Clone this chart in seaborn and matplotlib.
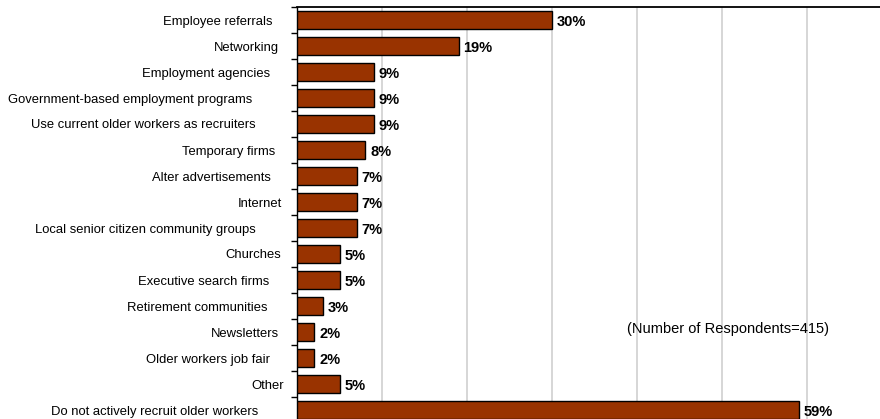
import matplotlib
matplotlib.use("Agg")
import matplotlib.pyplot as plt
import seaborn as sns
import pandas as pd
import numpy as np

categories = [
    "Employee referrals",
    "Networking",
    "Employment agencies",
    "Government-based employment programs",
    "Use current older workers as recruiters",
    "Temporary firms",
    "Alter advertisements",
    "Internet",
    "Local senior citizen community groups",
    "Churches",
    "Executive search firms",
    "Retirement communities",
    "Newsletters",
    "Older workers job fair",
    "Other",
    "Do not actively recruit older workers",
]
values = [30, 19, 9, 9, 9, 8, 7, 7, 7, 5, 5, 3, 2, 2, 5, 59]
value_labels = [f"{v}%" for v in values]
grid_values = [10, 20, 30, 40, 50, 60]
note = "(Number of Respondents=415)"

sns.set_theme(style="white")
plt.rcParams["font.family"] = ["Liberation Sans", "DejaVu Sans"]
plt.rcParams["text.color"] = "black"

W, H = 880, 419
fig = plt.figure(figsize=(W / 100, H / 100), dpi=100)
ax = fig.add_axes([297 / W, -4 / H, (W - 297) / W, 416 / H])

df = pd.DataFrame({"category": categories, "value": values})
sns.barplot(data=df, x="value", y="category", orient="h", color="#993300",
            saturation=1, edgecolor="black", linewidth=1, width=0.7, ax=ax,
            zorder=3)

ax.set_xlim(0, (W - 297) / 8.5)
ax.set_ylim(len(categories) - 0.5, -0.5)
ax.set_xticks(grid_values)
ax.set_axisbelow(True)
ax.xaxis.grid(True, color="#d0d0d0", linewidth=1.2)
ax.yaxis.grid(False)
ax.tick_params(axis="x", length=0, labelbottom=False)
ax.set_xlabel("")
ax.set_ylabel("")

ax.set_yticks(np.arange(-0.5, len(categories), 1.0), minor=True)
ax.tick_params(axis="y", which="minor", left=True, length=4, width=1, color="black", direction="out")
ax.tick_params(axis="y", which="major", left=False, length=0, labelsize=9.4, labelcolor="black")

for s in ["right", "bottom"]:
    ax.spines[s].set_visible(False)
ax.spines["top"].set_color("black")
ax.spines["top"].set_linewidth(1.3)
ax.spines["left"].set_color("black")
ax.spines["left"].set_linewidth(1)

texts = ax.bar_label(ax.containers[0], labels=value_labels, padding=3.6,
                     fontsize=10.5, fontweight="bold", color="black")
for t in texts:
    t.set_va("center_baseline")

fig.text(728 / W, 1 - 329 / H, note, ha="center", va="center", fontsize=10.5, color="black")

# category labels: offset grows a little with the label width
fig.canvas.draw()
renderer = fig.canvas.get_renderer()
for tick in ax.yaxis.get_major_ticks():
    w = tick.label1.get_window_extent(renderer).width
    pad_px = 297 - (289 - 0.15 * w)
    tick.set_pad(pad_px * 72 / 100)

fig.savefig("out.png", dpi=100)
